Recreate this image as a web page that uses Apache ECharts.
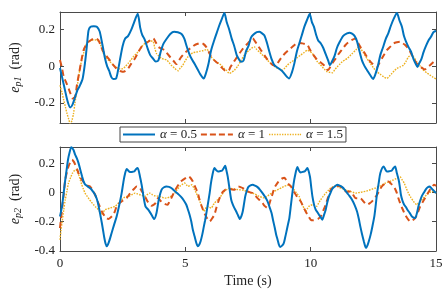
<!DOCTYPE html>
<html><head><meta charset="utf-8">
<script src="https://cdn.jsdelivr.net/npm/echarts@6/dist/echarts.min.js"></script>
<style>html,body{margin:0;padding:0;background:#fff}#c{width:447px;height:291px}</style>
</head><body><div id="c"></div>
<script>
// ---- data: [time (s), error (rad)] ----
const xTicks = [0, 5, 10, 15];
const seriesNames = ['α = 0.5', 'α = 1', 'α = 1.5'];

const p1_a05 = [[0,-0.01],[0.15,-0.1],[0.3,-0.19],[0.41,-0.225],[0.5,-0.21],[0.6,-0.17],[0.7,-0.13],[0.78,-0.11],[0.9,-0.07],[1.0,0.02],[1.08,0.12],[1.14,0.195],[1.22,0.215],[1.35,0.218],[1.47,0.215],[1.58,0.19],[1.66,0.14],[1.73,0.09],[1.8,0.04],[1.88,0.0],[1.96,-0.025],[2.05,-0.06],[2.13,-0.07],[2.24,-0.067],[2.32,-0.02],[2.4,0.04],[2.5,0.11],[2.6,0.15],[2.72,0.165],[2.85,0.2],[2.96,0.24],[3.1,0.285],[3.2,0.21],[3.28,0.17],[3.38,0.145],[3.5,0.095],[3.6,0.06],[3.72,0.04],[3.82,0.025],[3.92,0.03],[4.02,0.08],[4.12,0.12],[4.25,0.148],[4.4,0.175],[4.55,0.187],[4.7,0.185],[4.85,0.175],[4.96,0.15],[5.05,0.11],[5.15,0.07],[5.25,0.04],[5.38,0.01],[5.5,-0.02],[5.6,-0.045],[5.73,-0.068],[5.82,-0.04],[5.92,0.01],[6.03,0.087],[6.15,0.14],[6.25,0.18],[6.35,0.22],[6.45,0.255],[6.56,0.29],[6.65,0.24],[6.75,0.2],[6.85,0.15],[6.95,0.11],[7.05,0.06],[7.15,0.035],[7.22,0.024],[7.32,0.03],[7.42,0.08],[7.52,0.11],[7.62,0.155],[7.72,0.172],[7.85,0.185],[7.95,0.187],[8.05,0.18],[8.15,0.168],[8.25,0.13],[8.35,0.08],[8.45,0.035],[8.55,0.005],[8.7,-0.01],[8.85,-0.025],[9.0,-0.05],[9.14,-0.067],[9.25,-0.035],[9.35,0.015],[9.45,0.08],[9.55,0.125],[9.65,0.17],[9.75,0.215],[9.85,0.25],[9.96,0.284],[10.05,0.24],[10.13,0.215],[10.22,0.17],[10.3,0.14],[10.4,0.125],[10.5,0.1],[10.6,0.065],[10.7,0.03],[10.77,0.005],[10.85,0.025],[10.95,0.055],[11.05,0.1],[11.15,0.13],[11.3,0.165],[11.45,0.178],[11.55,0.182],[11.65,0.177],[11.75,0.165],[11.85,0.135],[11.95,0.08],[12.05,0.03],[12.15,0.0],[12.25,-0.022],[12.38,-0.05],[12.49,-0.07],[12.58,-0.045],[12.68,0.0],[12.78,0.06],[12.88,0.1],[13.0,0.15],[13.1,0.18],[13.2,0.22],[13.32,0.26],[13.44,0.29],[13.54,0.25],[13.64,0.215],[13.72,0.165],[13.8,0.135],[13.9,0.105],[14.0,0.08],[14.1,0.04],[14.2,0.01],[14.26,-0.005],[14.33,0.015],[14.42,0.04],[14.5,0.075],[14.6,0.11],[14.7,0.14],[14.8,0.16],[14.9,0.185],[15.0,0.193]];

const p1_a1 = [[0,0.033],[0.08,-0.01],[0.15,-0.058],[0.25,-0.09],[0.34,-0.12],[0.42,-0.15],[0.5,-0.176],[0.6,-0.167],[0.68,-0.1],[0.76,-0.04],[0.84,0.02],[0.94,0.087],[1.04,0.115],[1.14,0.133],[1.27,0.145],[1.4,0.151],[1.53,0.142],[1.63,0.11],[1.73,0.078],[1.83,0.06],[1.93,0.042],[2.03,0.025],[2.13,0.005],[2.23,-0.01],[2.33,-0.022],[2.43,-0.028],[2.53,-0.031],[2.62,-0.025],[2.72,-0.013],[2.85,0.015],[2.99,0.042],[3.12,0.075],[3.25,0.105],[3.38,0.12],[3.52,0.133],[3.62,0.143],[3.72,0.151],[3.82,0.13],[3.92,0.105],[4.05,0.095],[4.18,0.087],[4.3,0.065],[4.44,0.042],[4.55,0.025],[4.64,0.011],[4.74,0.03],[4.84,0.05],[4.97,0.07],[5.1,0.087],[5.23,0.1],[5.37,0.115],[5.5,0.122],[5.63,0.127],[5.73,0.12],[5.83,0.105],[5.93,0.08],[6.03,0.05],[6.17,0.03],[6.3,0.015],[6.43,-0.005],[6.56,-0.022],[6.72,-0.025],[6.8,-0.005],[6.89,0.015],[7.02,0.04],[7.16,0.069],[7.3,0.095],[7.49,0.124],[7.6,0.14],[7.69,0.151],[7.78,0.135],[7.88,0.115],[8.0,0.09],[8.15,0.06],[8.28,0.035],[8.41,0.015],[8.5,0.005],[8.61,0.0],[8.7,0.02],[8.81,0.042],[8.9,0.058],[9.0,0.073],[9.14,0.09],[9.27,0.105],[9.37,0.117],[9.47,0.127],[9.57,0.126],[9.67,0.124],[9.77,0.12],[9.87,0.115],[9.97,0.09],[10.07,0.069],[10.17,0.05],[10.27,0.033],[10.4,0.02],[10.53,0.005],[10.6,-0.01],[10.69,-0.022],[10.78,-0.005],[10.86,0.015],[11.0,0.042],[11.13,0.069],[11.26,0.092],[11.39,0.115],[11.5,0.13],[11.65,0.143],[11.79,0.151],[11.88,0.13],[11.98,0.105],[12.12,0.078],[12.25,0.05],[12.35,0.03],[12.45,0.015],[12.55,0.005],[12.65,-0.004],[12.75,0.02],[12.84,0.042],[12.94,0.065],[13.04,0.087],[13.17,0.105],[13.31,0.124],[13.44,0.13],[13.57,0.133],[13.67,0.125],[13.77,0.115],[13.87,0.1],[13.97,0.078],[14.1,0.045],[14.23,0.015],[14.4,-0.005],[14.56,-0.018],[14.66,-0.005],[14.76,0.005],[14.88,0.02],[15.0,0.033]];

const p1_a15 = [[0,-0.104],[0.08,-0.145],[0.15,-0.185],[0.22,-0.225],[0.28,-0.258],[0.35,-0.29],[0.41,-0.315],[0.48,-0.295],[0.54,-0.258],[0.6,-0.2],[0.67,-0.13],[0.74,-0.06],[0.81,-0.004],[0.87,0.035],[0.94,0.069],[1.0,0.1],[1.07,0.124],[1.17,0.135],[1.27,0.142],[1.37,0.143],[1.47,0.142],[1.55,0.135],[1.6,0.124],[1.67,0.095],[1.73,0.069],[1.83,0.05],[1.93,0.033],[2.03,0.02],[2.13,0.005],[2.23,-0.005],[2.33,-0.013],[2.43,-0.015],[2.53,-0.013],[2.62,0.0],[2.72,0.015],[2.82,0.032],[2.92,0.05],[3.02,0.065],[3.12,0.078],[3.22,0.097],[3.32,0.115],[3.42,0.128],[3.52,0.138],[3.62,0.137],[3.72,0.133],[3.78,0.1],[3.85,0.069],[3.95,0.055],[4.05,0.042],[4.15,0.038],[4.25,0.033],[4.35,0.02],[4.44,0.005],[4.58,-0.012],[4.71,-0.025],[4.8,-0.01],[4.9,0.005],[5.0,0.03],[5.1,0.05],[5.2,0.063],[5.3,0.073],[5.4,0.076],[5.5,0.078],[5.6,0.082],[5.69,0.084],[5.78,0.088],[5.87,0.091],[5.95,0.07],[6.03,0.05],[6.13,0.035],[6.23,0.024],[6.33,0.015],[6.43,0.005],[6.53,-0.01],[6.63,-0.022],[6.7,-0.033],[6.76,-0.04],[6.86,-0.032],[6.96,-0.022],[7.09,0.0],[7.22,0.03],[7.35,0.06],[7.45,0.075],[7.55,0.087],[7.65,0.098],[7.75,0.105],[7.85,0.09],[7.95,0.078],[8.05,0.065],[8.15,0.05],[8.28,0.032],[8.41,0.015],[8.55,0.0],[8.68,-0.013],[8.78,-0.018],[8.88,-0.022],[8.97,-0.01],[9.07,0.005],[9.2,0.02],[9.34,0.033],[9.47,0.047],[9.6,0.06],[9.73,0.073],[9.87,0.087],[9.97,0.08],[10.07,0.069],[10.17,0.045],[10.27,0.024],[10.37,0.01],[10.46,-0.004],[10.56,-0.018],[10.66,-0.031],[10.76,-0.034],[10.86,-0.036],[10.96,-0.02],[11.06,-0.004],[11.16,0.01],[11.26,0.024],[11.36,0.033],[11.46,0.042],[11.56,0.055],[11.66,0.069],[11.8,0.088],[11.92,0.105],[12.02,0.09],[12.12,0.069],[12.25,0.04],[12.38,0.015],[12.5,-0.008],[12.65,-0.031],[12.78,-0.045],[12.91,-0.058],[13.04,-0.067],[13.14,-0.055],[13.24,-0.04],[13.34,-0.025],[13.44,-0.013],[13.57,-0.004],[13.7,0.005],[13.8,0.025],[13.9,0.05],[14.03,0.06],[14.13,0.045],[14.23,0.024],[14.37,0.0],[14.5,-0.022],[14.63,-0.036],[14.76,-0.049],[14.88,-0.06],[15.0,-0.07]];

const p2_a05 = [[0,-0.164],[0.08,-0.095],[0.15,0.0],[0.21,0.086],[0.27,0.16],[0.32,0.223],[0.38,0.27],[0.45,0.309],[0.54,0.29],[0.6,0.26],[0.67,0.234],[0.74,0.2],[0.81,0.155],[0.88,0.11],[0.94,0.075],[1.0,0.055],[1.07,0.045],[1.15,0.035],[1.24,0.023],[1.32,0.005],[1.4,-0.016],[1.47,-0.045],[1.53,-0.084],[1.6,-0.145],[1.67,-0.209],[1.72,-0.26],[1.77,-0.311],[1.82,-0.35],[1.87,-0.368],[1.95,-0.34],[2.06,-0.277],[2.16,-0.22],[2.26,-0.164],[2.36,-0.09],[2.46,-0.005],[2.52,0.06],[2.57,0.109],[2.66,0.159],[2.72,0.15],[2.79,0.139],[2.88,0.14],[2.96,0.143],[3.04,0.16],[3.1,0.166],[3.19,0.109],[3.26,0.05],[3.32,-0.016],[3.41,-0.095],[3.52,-0.118],[3.65,-0.152],[3.76,-0.182],[3.85,-0.141],[3.94,-0.05],[4.05,0.018],[4.15,0.035],[4.25,0.041],[4.35,0.038],[4.44,0.03],[4.54,0.015],[4.64,0.0],[4.74,-0.015],[4.84,-0.032],[4.94,-0.055],[5.04,-0.084],[5.1,-0.115],[5.17,-0.152],[5.24,-0.2],[5.3,-0.255],[5.37,-0.3],[5.44,-0.345],[5.5,-0.368],[5.56,-0.355],[5.61,-0.334],[5.68,-0.285],[5.74,-0.232],[5.79,-0.19],[5.83,-0.152],[5.9,-0.08],[5.97,-0.005],[6.02,0.06],[6.07,0.109],[6.16,0.166],[6.23,0.152],[6.3,0.143],[6.38,0.145],[6.46,0.148],[6.53,0.165],[6.59,0.182],[6.64,0.15],[6.69,0.109],[6.76,0.03],[6.83,-0.05],[6.9,-0.085],[6.96,-0.107],[7.03,-0.13],[7.09,-0.152],[7.18,-0.182],[7.24,-0.16],[7.29,-0.13],[7.34,-0.08],[7.39,-0.027],[7.45,0.01],[7.51,0.036],[7.6,0.048],[7.69,0.052],[7.78,0.046],[7.88,0.036],[7.98,0.018],[8.08,-0.005],[8.18,-0.03],[8.28,-0.061],[8.36,-0.1],[8.44,-0.141],[8.5,-0.19],[8.57,-0.243],[8.62,-0.285],[8.68,-0.323],[8.73,-0.355],[8.78,-0.373],[8.85,-0.365],[8.92,-0.35],[8.98,-0.31],[9.05,-0.255],[9.1,-0.215],[9.15,-0.175],[9.21,-0.09],[9.27,-0.005],[9.32,0.06],[9.37,0.109],[9.47,0.173],[9.53,0.15],[9.6,0.136],[9.68,0.14],[9.76,0.143],[9.82,0.155],[9.87,0.166],[9.97,0.109],[10.02,0.04],[10.07,-0.027],[10.13,-0.08],[10.2,-0.118],[10.27,-0.135],[10.33,-0.152],[10.4,-0.17],[10.46,-0.186],[10.53,-0.155],[10.6,-0.118],[10.66,-0.07],[10.73,-0.027],[10.8,0.0],[10.86,0.023],[10.96,0.04],[11.06,0.052],[11.16,0.046],[11.26,0.036],[11.36,0.018],[11.46,-0.005],[11.55,-0.025],[11.65,-0.05],[11.75,-0.085],[11.85,-0.13],[11.92,-0.18],[11.98,-0.232],[12.05,-0.285],[12.12,-0.334],[12.17,-0.365],[12.21,-0.38],[12.27,-0.36],[12.32,-0.334],[12.39,-0.29],[12.45,-0.243],[12.54,-0.164],[12.6,-0.08],[12.65,-0.005],[12.72,0.07],[12.78,0.132],[12.91,0.177],[12.97,0.16],[13.04,0.143],[13.14,0.145],[13.24,0.15],[13.3,0.165],[13.37,0.177],[13.44,0.13],[13.51,0.086],[13.56,0.035],[13.6,-0.016],[13.66,-0.055],[13.73,-0.084],[13.8,-0.1],[13.86,-0.118],[13.95,-0.14],[14.04,-0.164],[14.17,-0.175],[14.24,-0.14],[14.3,-0.095],[14.37,-0.055],[14.43,-0.027],[14.52,0.0],[14.6,0.023],[14.67,0.035],[14.74,0.041],[14.8,0.032],[14.87,0.018],[14.93,0.008],[15.0,-0.005]];

const p2_a1 = [[0,-0.243],[0.04,-0.18],[0.08,-0.118],[0.15,-0.01],[0.21,0.086],[0.28,0.14],[0.34,0.177],[0.41,0.205],[0.48,0.223],[0.55,0.21],[0.61,0.189],[0.68,0.16],[0.74,0.132],[0.8,0.108],[0.87,0.086],[0.95,0.068],[1.03,0.052],[1.1,0.046],[1.2,0.041],[1.3,0.015],[1.4,-0.016],[1.47,-0.045],[1.53,-0.073],[1.6,-0.1],[1.67,-0.13],[1.74,-0.15],[1.8,-0.168],[1.87,-0.177],[1.93,-0.182],[2.03,-0.17],[2.13,-0.152],[2.2,-0.125],[2.26,-0.095],[2.36,-0.075],[2.46,-0.061],[2.56,-0.05],[2.66,-0.039],[2.76,-0.015],[2.86,0.007],[2.96,0.025],[3.06,0.041],[3.12,0.038],[3.19,0.03],[3.25,0.012],[3.32,-0.005],[3.4,-0.03],[3.49,-0.061],[3.57,-0.078],[3.65,-0.091],[3.73,-0.085],[3.81,-0.073],[3.87,-0.05],[3.92,-0.039],[4.0,-0.055],[4.11,-0.073],[4.2,-0.08],[4.29,-0.084],[4.36,-0.065],[4.44,-0.039],[4.52,-0.01],[4.6,0.018],[4.7,0.045],[4.78,0.068],[4.86,0.08],[4.95,0.091],[5.04,0.1],[5.13,0.109],[5.2,0.1],[5.3,0.075],[5.4,0.035],[5.5,-0.005],[5.56,-0.045],[5.63,-0.084],[5.71,-0.12],[5.79,-0.152],[5.88,-0.18],[5.97,-0.198],[6.06,-0.18],[6.16,-0.152],[6.24,-0.105],[6.32,-0.061],[6.39,-0.03],[6.46,-0.005],[6.52,0.008],[6.59,0.018],[6.67,0.022],[6.76,0.023],[6.86,0.02],[6.96,0.018],[7.04,0.03],[7.12,0.041],[7.2,0.036],[7.29,0.03],[7.39,0.018],[7.49,0.007],[7.59,0.0],[7.69,-0.005],[7.78,-0.02],[7.88,-0.039],[7.98,-0.055],[8.08,-0.073],[8.15,-0.09],[8.22,-0.1],[8.28,-0.107],[8.35,-0.08],[8.42,-0.04],[8.48,-0.01],[8.55,0.03],[8.62,0.05],[8.7,0.07],[8.78,0.085],[8.86,0.095],[8.95,0.1],[9.02,0.085],[9.1,0.06],[9.21,0.041],[9.31,0.01],[9.41,-0.016],[9.5,-0.04],[9.6,-0.061],[9.7,-0.095],[9.8,-0.13],[9.9,-0.16],[10.0,-0.186],[10.1,-0.19],[10.2,-0.186],[10.3,-0.18],[10.4,-0.164],[10.5,-0.125],[10.6,-0.084],[10.7,-0.03],[10.8,0.018],[10.9,0.035],[11.0,0.045],[11.1,0.043],[11.19,0.041],[11.29,0.025],[11.39,0.007],[11.49,0.005],[11.59,0.007],[11.69,-0.015],[11.79,-0.039],[11.88,-0.04],[11.98,-0.039],[12.1,-0.06],[12.25,-0.084],[12.35,-0.075],[12.45,-0.061],[12.55,-0.04],[12.65,-0.016],[12.75,0.015],[12.84,0.041],[12.97,0.06],[13.1,0.075],[13.2,0.06],[13.31,0.041],[13.38,0.02],[13.44,-0.005],[13.5,-0.04],[13.57,-0.073],[13.67,-0.115],[13.77,-0.152],[13.87,-0.18],[13.97,-0.198],[14.07,-0.19],[14.17,-0.175],[14.27,-0.14],[14.37,-0.095],[14.47,-0.065],[14.56,-0.039],[14.66,-0.01],[14.76,0.018],[14.84,0.035],[14.92,0.052],[15.0,0.045]];

const p2_a15 = [[0,-0.323],[0.04,-0.26],[0.08,-0.209],[0.15,-0.12],[0.21,-0.05],[0.28,0.01],[0.34,0.064],[0.42,0.1],[0.5,0.132],[0.57,0.148],[0.63,0.155],[0.7,0.135],[0.77,0.109],[0.82,0.08],[0.87,0.052],[0.94,0.02],[1.0,-0.005],[1.08,-0.025],[1.16,-0.045],[1.25,-0.065],[1.34,-0.084],[1.43,-0.1],[1.53,-0.118],[1.6,-0.135],[1.67,-0.152],[1.73,-0.135],[1.8,-0.118],[1.9,-0.112],[2.0,-0.107],[2.1,-0.1],[2.2,-0.095],[2.3,-0.078],[2.39,-0.061],[2.49,-0.045],[2.59,-0.032],[2.69,-0.027],[2.79,-0.023],[2.89,-0.013],[2.99,-0.005],[3.09,-0.01],[3.19,-0.016],[3.29,-0.022],[3.39,-0.027],[3.48,-0.015],[3.58,-0.005],[3.68,-0.015],[3.78,-0.023],[3.88,-0.025],[3.98,-0.027],[4.08,-0.033],[4.18,-0.039],[4.28,-0.036],[4.38,-0.032],[4.48,-0.02],[4.58,-0.005],[4.68,0.02],[4.78,0.041],[4.88,0.055],[4.97,0.064],[5.04,0.052],[5.11,0.041],[5.18,0.047],[5.26,0.052],[5.35,0.025],[5.44,-0.005],[5.52,-0.04],[5.61,-0.073],[5.68,-0.1],[5.74,-0.13],[5.8,-0.112],[5.87,-0.095],[5.95,-0.1],[6.03,-0.107],[6.1,-0.09],[6.16,-0.073],[6.26,-0.055],[6.36,-0.039],[6.46,-0.015],[6.56,0.007],[6.66,0.02],[6.76,0.03],[6.86,0.026],[6.96,0.023],[7.06,0.02],[7.16,0.018],[7.26,0.016],[7.35,0.014],[7.45,0.007],[7.55,0.0],[7.65,-0.004],[7.75,-0.009],[7.85,-0.018],[7.95,-0.027],[8.05,-0.033],[8.15,-0.039],[8.25,-0.028],[8.35,-0.016],[8.45,-0.004],[8.54,0.007],[8.64,0.015],[8.74,0.023],[8.84,0.032],[8.94,0.041],[9.04,0.047],[9.15,0.052],[9.25,0.035],[9.34,0.018],[9.44,-0.005],[9.54,-0.027],[9.6,-0.055],[9.67,-0.084],[9.74,-0.11],[9.8,-0.13],[9.87,-0.11],[9.93,-0.095],[10.0,-0.088],[10.07,-0.084],[10.15,-0.09],[10.24,-0.095],[10.32,-0.072],[10.4,-0.05],[10.5,-0.027],[10.6,-0.005],[10.7,0.013],[10.79,0.03],[10.89,0.038],[10.99,0.045],[11.09,0.038],[11.19,0.03],[11.29,0.024],[11.39,0.018],[11.49,0.012],[11.59,0.007],[11.69,0.001],[11.79,-0.005],[11.88,-0.002],[11.98,0.0],[12.08,0.004],[12.18,0.007],[12.28,0.012],[12.38,0.018],[12.48,0.024],[12.58,0.03],[12.68,0.038],[12.78,0.045],[12.88,0.055],[12.98,0.064],[13.08,0.07],[13.17,0.075],[13.27,0.083],[13.37,0.091],[13.47,0.098],[13.57,0.105],[13.65,0.085],[13.73,0.064],[13.81,0.03],[13.9,-0.005],[14.0,-0.035],[14.1,-0.061],[14.17,-0.075],[14.23,-0.084],[14.3,-0.072],[14.37,-0.061],[14.46,-0.045],[14.56,-0.027],[14.65,-0.013],[14.74,0.0],[14.82,0.004],[14.9,0.007],[15.0,-0.005]];

// ---- styling ----
const FONT = 'Liberation Serif';
const AX = '#4a4a4a';
const colors = ['#0072BD', '#D95319', '#EDB120'];
const lineStyles = [
  {width: 2, type: 'solid'},
  {width: 2, type: [6, 4]},
  {width: 1.4, type: [1.6, 1.2]}
];
// legend key glyphs (solid, dashed, dotted strokes drawn as filled bars)
const legendIcons = [
  'path://M0,0h32v2h-32z',
  'path://M0,0h6v2h-6zM9,0h6v2h-6zM18,0h6v2h-6zM27,0h5v2h-5z',
  'path://M0,0h1.3v1.4h-1.3zM2.6,0h1.3v1.4h-1.3zM5.2,0h1.3v1.4h-1.3zM7.8,0h1.3v1.4h-1.3zM10.4,0h1.3v1.4h-1.3zM13,0h1.3v1.4h-1.3zM15.6,0h1.3v1.4h-1.3zM18.2,0h1.3v1.4h-1.3zM20.8,0h1.3v1.4h-1.3zM23.4,0h1.3v1.4h-1.3zM26,0h1.3v1.4h-1.3zM28.6,0h1.3v1.4h-1.3zM30.7,0h1.3v1.4h-1.3z'
];

function xAx(grid, pos, showLabels, name) {
  return {
    type: 'value', gridIndex: grid, position: pos, min: xTicks[0], max: xTicks[xTicks.length - 1], interval: 5,
    axisLine: {show: true, onZero: false, lineStyle: {color: AX, width: 1}},
    axisTick: {show: true, inside: true, length: 4, lineStyle: {color: AX}},
    axisLabel: {show: showLabels, margin: 6, color: '#222', fontFamily: FONT, fontSize: 13},
    splitLine: {show: false},
    name: name || '', nameLocation: 'middle', nameGap: 23,
    nameTextStyle: {fontFamily: FONT, fontSize: 14, color: '#222'}
  };
}
function yAx(grid, pos, min, max, showLabels, name, showMin) {
  return {
    type: 'value', gridIndex: grid, position: pos, min: min, max: max, minInterval: 0.2, maxInterval: 0.2,
    axisLine: {show: true, onZero: false, lineStyle: {color: AX, width: 1}},
    axisTick: {show: true, inside: true, length: 4, lineStyle: {color: AX}},
    axisLabel: {show: showLabels, margin: 5, color: '#222', fontFamily: FONT, fontSize: 13,
      showMinLabel: !!showMin, showMaxLabel: false},
    splitLine: {show: false},
    name: name || '', nameLocation: 'middle', nameRotate: 90, nameGap: 28,
    nameTextStyle: {fontFamily: FONT, fontSize: 14, color: '#222',
      rich: {
        e: {fontFamily: FONT, fontSize: 14, fontStyle: 'italic', color: '#222'},
        s: {fontFamily: FONT, fontSize: 10, fontStyle: 'italic', color: '#222', padding: [7, 0, 0, 0]},
        r: {fontFamily: FONT, fontSize: 14, color: '#222'}
      }}
  };
}

const datasets = [[p1_a05, p1_a1, p1_a15], [p2_a05, p2_a1, p2_a15]];
const series = [];
datasets.forEach((set, g) => {
  set.forEach((d, i) => {
    series.push({
      name: seriesNames[i], type: 'line', data: d,
      xAxisIndex: g * 2, yAxisIndex: g * 2,
      symbol: 'none', showSymbol: false, smooth: 0.25, clip: true,
      color: colors[i], lineStyle: Object.assign({color: colors[i]}, lineStyles[i]),
      z: 10 - i
    });
  });
});

const chart = echarts.init(document.getElementById('c'), null, {renderer: 'canvas'});
chart.setOption({
  animation: false,
  backgroundColor: '#fff',
  grid: [
    {left: 58, top: 12, width: 378, height: 111},
    {left: 58, top: 147, width: 378, height: 104}
  ],
  xAxis: [xAx(0, 'bottom', false), xAx(0, 'top', false), xAx(1, 'bottom', true, 'Time (s)'), xAx(1, 'top', false)],
  yAxis: [
    yAx(0, 'left', -0.31, 0.295, true, '{e|e}{s|p1}{r|  (rad)}', false),
    yAx(0, 'right', -0.31, 0.295, false),
    yAx(1, 'left', -0.4, 0.31, true, '{e|e}{s|p2}{r|  (rad)}', true),
    yAx(1, 'right', -0.4, 0.31, false)
  ],
  legend: {
    data: seriesNames.map((n, i) => ({name: n, icon: legendIcons[i],
      itemStyle: {color: colors[i], borderWidth: 0}})),
    left: 120, top: 127, orient: 'horizontal',
    itemWidth: 32, itemHeight: 2, itemGap: 4, padding: [1, 3, 1, 3],
    borderColor: '#444', borderWidth: 1, backgroundColor: '#fff',
    formatter: function (n) { return '{a|α}' + n.slice(1); },
    textStyle: {fontFamily: FONT, fontSize: 13, color: '#222',
      rich: {a: {fontFamily: FONT, fontSize: 13, fontStyle: 'italic', color: '#222'}}}
  },
  series: series
});
</script></body></html>
